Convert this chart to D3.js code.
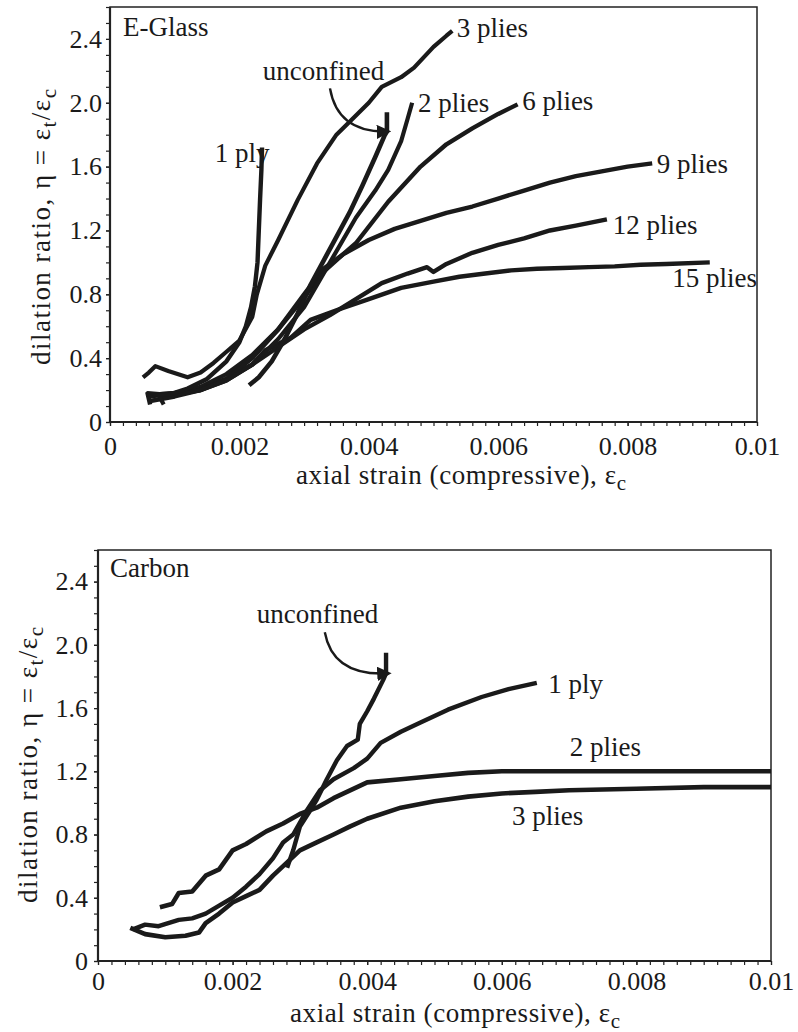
<!DOCTYPE html>
<html>
<head>
<meta charset="utf-8">
<script src="https://cdn.jsdelivr.net/npm/d3@7"></script>
<style>
  body { margin: 0; background: #fff; }
  svg { display: block; }
  text { font-family: "Liberation Serif", "Times New Roman", serif; fill: #1a1a1a; }
</style>
</head>
<body>
<div id="chart"></div>
<script>

var serif = '"Liberation Serif", "Times New Roman", serif';

// axis ticks (shared by both panels)
var xTickValues = [0, 0.002, 0.004, 0.006, 0.008, 0.01];
var xTickLabels = ["0", "0.002", "0.004", "0.006", "0.008", "0.01"];
var yTickValues = [0, 0.4, 0.8, 1.2, 1.6, 2.0, 2.4];
var yTickLabels = ["0", "0.4", "0.8", "1.2", "1.6", "2.0", "2.4"];

// E-Glass curves: [axial strain, dilation ratio]
var glassUnconfined = [[0.00215,0.23],[0.0023,0.28],[0.0025,0.38],[0.0027,0.52],[0.0029,0.68],[0.0031,0.86],
  [0.0033,1.01],[0.0035,1.16],[0.0037,1.31],[0.0039,1.48],[0.0041,1.66],[0.00425,1.80],[0.00428,1.82],[0.00428,1.94]];
var glass1Ply = [[0.00062,0.11],[0.00058,0.18],[0.0009,0.17],[0.0012,0.21],[0.0015,0.27],[0.0018,0.38],[0.0020,0.50],
  [0.0021,0.60],[0.00218,0.72],[0.00224,0.85],[0.00228,1.00],[0.0023,1.20],[0.00232,1.40],[0.00234,1.58],[0.00235,1.72]];
var glass2Plies = [[0.00083,0.11],[0.00075,0.17],[0.0010,0.17],[0.0014,0.20],[0.0018,0.26],[0.0022,0.36],[0.0026,0.52],
  [0.0030,0.72],[0.0034,1.00],[0.0038,1.28],[0.0041,1.45],[0.0043,1.58],[0.0045,1.76],[0.0046,1.90],[0.00467,2.0]];
var glass3Plies = [[0.00051,0.28],[0.0006,0.31],[0.0007,0.35],[0.0009,0.32],[0.0012,0.28],[0.0014,0.31],[0.0016,0.37],
  [0.0018,0.44],[0.0020,0.51],[0.0022,0.66],[0.00227,0.80],[0.0024,0.98],[0.0026,1.14],[0.0029,1.39],[0.0032,1.62],
  [0.0035,1.80],[0.0037,1.88],[0.0040,2.0],[0.0042,2.10],[0.0045,2.16],[0.0047,2.22],[0.0050,2.35],[0.0052,2.42],[0.00529,2.45]];
var glass6Plies = [[0.0006,0.13],[0.0010,0.16],[0.0014,0.20],[0.0018,0.27],[0.0022,0.40],[0.0026,0.58],[0.0030,0.80],
  [0.0033,0.96],[0.0036,1.05],[0.0038,1.12],[0.0043,1.38],[0.0048,1.60],[0.0052,1.74],[0.0056,1.84],[0.0060,1.93],[0.0063,1.99]];
var glass9Plies = [[0.0006,0.16],[0.0010,0.18],[0.0014,0.22],[0.0018,0.30],[0.0022,0.42],[0.0026,0.58],[0.0030,0.78],
  [0.0033,0.94],[0.0036,1.05],[0.0040,1.14],[0.0044,1.21],[0.0048,1.26],[0.0052,1.31],[0.0056,1.35],[0.0060,1.40],
  [0.0064,1.45],[0.0068,1.50],[0.0072,1.54],[0.0076,1.57],[0.0080,1.60],[0.00838,1.62]];
var glass12Plies = [[0.0006,0.17],[0.0010,0.18],[0.0014,0.21],[0.0018,0.27],[0.0022,0.36],[0.0026,0.47],[0.0030,0.58],
  [0.0034,0.67],[0.0038,0.77],[0.0042,0.87],[0.0046,0.93],[0.0049,0.97],[0.0050,0.94],[0.0052,0.99],[0.0056,1.06],
  [0.0060,1.11],[0.0064,1.15],[0.0068,1.20],[0.0072,1.23],[0.00768,1.27]];
var glass15Plies = [[0.0006,0.17],[0.0010,0.18],[0.0014,0.20],[0.0018,0.26],[0.0022,0.36],[0.0024,0.45],[0.0028,0.53],
  [0.0031,0.64],[0.0035,0.70],[0.0040,0.77],[0.0045,0.84],[0.0050,0.88],[0.0054,0.91],[0.0058,0.93],[0.0062,0.95],
  [0.0066,0.96],[0.0070,0.965],[0.0074,0.97],[0.0078,0.975],[0.0082,0.985],[0.0086,0.99],[0.00927,1.00]];

// Carbon curves
var carbonUnconfined = [[0.00281,0.59],[0.0029,0.70],[0.0030,0.85],[0.00315,0.95],[0.00325,1.02],[0.0034,1.15],
  [0.00355,1.27],[0.0037,1.36],[0.00386,1.40],[0.00389,1.50],[0.0040,1.58],[0.0041,1.66],[0.00424,1.78],[0.00428,1.82],[0.00428,1.95]];
var carbon1Ply = [[0.00052,0.20],[0.0007,0.23],[0.0009,0.22],[0.0012,0.26],[0.0014,0.27],[0.0016,0.30],[0.0018,0.35],
  [0.0020,0.40],[0.0022,0.47],[0.0024,0.55],[0.0026,0.65],[0.00275,0.75],[0.0029,0.80],[0.0031,0.95],[0.0033,1.08],
  [0.0035,1.15],[0.0038,1.22],[0.0040,1.28],[0.0042,1.38],[0.0045,1.45],[0.0048,1.51],[0.0052,1.59],[0.0057,1.67],
  [0.0061,1.72],[0.00652,1.76]];
var carbon2Plies = [[0.00092,0.34],[0.0011,0.36],[0.0012,0.43],[0.0014,0.44],[0.0016,0.54],[0.0018,0.58],[0.0020,0.70],
  [0.0022,0.74],[0.0025,0.82],[0.00275,0.87],[0.0030,0.93],[0.00325,0.97],[0.0035,1.03],[0.0040,1.13],[0.0045,1.15],
  [0.0050,1.17],[0.0055,1.19],[0.0060,1.20],[0.0070,1.20],[0.0080,1.20],[0.0090,1.20],[0.0100,1.20]];
var carbon3Plies = [[0.00048,0.21],[0.0007,0.17],[0.0010,0.15],[0.0013,0.16],[0.0015,0.18],[0.0016,0.24],[0.0018,0.30],
  [0.0020,0.37],[0.0022,0.41],[0.0024,0.45],[0.0026,0.54],[0.00285,0.64],[0.0030,0.70],[0.00325,0.75],[0.0035,0.80],
  [0.00374,0.85],[0.0040,0.90],[0.0045,0.97],[0.0050,1.01],[0.0055,1.04],[0.0060,1.06],[0.0065,1.07],[0.0070,1.08],
  [0.0080,1.09],[0.0090,1.10],[0.0100,1.10]];

var svg = d3.select("#chart").append("svg")
  .attr("width", 798)
  .attr("height", 1032);

svg.append("defs").append("marker")
  .attr("id", "arrow")
  .attr("viewBox", "0 0 10 10")
  .attr("refX", 8).attr("refY", 5)
  .attr("markerWidth", 6).attr("markerHeight", 6)
  .attr("markerUnits", "strokeWidth")
  .attr("orient", "auto")
  .append("path")
  .attr("d", "M0,0 L10,5 L0,10 z")
  .attr("fill", "#1a1a1a");

function drawPanel(p) {
  var x = d3.scaleLinear().domain([0, 0.01]).range([p.left, p.right]);
  var y = d3.scaleLinear().domain([0, 2.6]).range([p.bottom, p.top]);
  var g = svg.append("g");

  // frame
  g.append("rect")
    .attr("x", p.left).attr("y", p.top)
    .attr("width", p.right - p.left).attr("height", p.bottom - p.top)
    .attr("fill", "none").attr("stroke", "#222").attr("stroke-width", 1.5);

  // minor ticks
  g.append("g")
    .attr("transform", "translate(0," + p.bottom + ")")
    .call(d3.axisBottom(x).tickValues(d3.range(0, 0.01001, 0.0002)).tickSize(4).tickFormat(""))
    .call(function(a) { a.select(".domain").remove(); });
  g.append("g")
    .attr("transform", "translate(" + p.left + ",0)")
    .call(d3.axisLeft(y).tickValues(d3.range(0, 2.601, 0.1)).tickSize(4).tickFormat(""))
    .call(function(a) { a.select(".domain").remove(); });

  // major ticks + labels
  var xa = g.append("g")
    .attr("transform", "translate(0," + p.bottom + ")")
    .call(d3.axisBottom(x).tickValues(xTickValues).tickSize(4).tickPadding(p.xPad)
      .tickFormat(function(d, i) { return xTickLabels[i]; }));
  xa.select(".domain").remove();
  xa.attr("font-family", serif);
  xa.selectAll("text").style("font-family", serif).style("font-size", "26px").attr("fill", "#1a1a1a");

  var ya = g.append("g")
    .attr("transform", "translate(" + p.left + ",0)")
    .call(d3.axisLeft(y).tickValues(yTickValues).tickSize(4).tickPadding(p.yPad)
      .tickFormat(function(d, i) { return yTickLabels[i]; }));
  ya.select(".domain").remove();
  ya.attr("font-family", serif);
  ya.selectAll("text").style("font-family", serif).style("font-size", "26px").attr("fill", "#1a1a1a");
  g.selectAll(".tick line").attr("stroke", "#222").attr("stroke-width", 1.2);

  // axis lines (heavier than frame)
  g.append("line").attr("x1", p.left).attr("x2", p.right).attr("y1", p.bottom).attr("y2", p.bottom)
    .attr("stroke", "#222").attr("stroke-width", 2.2);
  g.append("line").attr("x1", p.left).attr("x2", p.left).attr("y1", p.top).attr("y2", p.bottom)
    .attr("stroke", "#222").attr("stroke-width", 2.2);

  // curves
  var line = d3.line().x(function(d) { return x(d[0]); }).y(function(d) { return y(d[1]); });
  p.curves.forEach(function(c) {
    g.append("path")
      .datum(c.data)
      .attr("d", line)
      .attr("fill", "none")
      .attr("stroke", "#1a1a1a")
      .attr("stroke-width", c.w)
      .attr("stroke-linejoin", "round");
  });

  // arrow from "unconfined"
  var a = p.arrow;
  g.append("path")
    .attr("d", "M" + x(a[0][0]) + "," + y(a[0][1]) +
      " Q" + x(a[1][0]) + "," + y(a[1][1]) + " " + x(a[2][0]) + "," + y(a[2][1]))
    .attr("fill", "none")
    .attr("stroke", "#1a1a1a")
    .attr("stroke-width", 2.4)
    .attr("marker-end", "url(#arrow)");

  // curve labels
  g.selectAll(".lbl").data(p.labels).enter().append("text")
    .attr("class", "lbl")
    .attr("x", function(d) { return x(d[1]); })
    .attr("y", function(d) { return y(d[2]); })
    .style("font-family", serif)
    .style("font-size", "27px")
    .text(function(d) { return d[0]; });

  // x title
  var xt = g.append("text")
    .attr("x", p.xTitle[0]).attr("y", p.xTitle[1])
    .attr("textLength", 330).attr("lengthAdjust", "spacing")
    .style("font-family", serif)
    .style("font-size", "27px")
    .text("axial strain (compressive), ε");
  xt.append("tspan").attr("dy", 6).style("font-size", "21px").text("c");

  // y title
  var yt = g.append("text")
    .attr("transform", "translate(" + p.yTitle[0] + "," + p.yTitle[1] + ") rotate(-90)")
    .attr("textLength", 276).attr("lengthAdjust", "spacing")
    .style("font-family", serif)
    .style("font-size", "27px")
    .text("dilation ratio, η = ε");
  yt.append("tspan").attr("dy", 6).style("font-size", "21px").text("t");
  yt.append("tspan").attr("dy", -6).text("/ε");
  yt.append("tspan").attr("dy", 6).style("font-size", "21px").text("c");
}

drawPanel({
  left: 110, right: 757, top: 7, bottom: 422, xPad: 11, yPad: 4,
  xTitle: [296, 484], yTitle: [50, 365],
  curves: [
    { data: glass15Plies, w: 4.4 },
    { data: glass12Plies, w: 4.4 },
    { data: glass9Plies, w: 4.4 },
    { data: glass6Plies, w: 4.4 },
    { data: glass3Plies, w: 4.2 },
    { data: glass2Plies, w: 4.2 },
    { data: glass1Ply, w: 4.4 },
    { data: glassUnconfined, w: 4.6 }
  ],
  arrow: [[0.0034, 2.09], [0.00352, 1.81], [0.0043, 1.82]],
  labels: [
    ["E-Glass", 0.0002, 2.42],
    ["3 plies", 0.00536, 2.41],
    ["unconfined", 0.00236, 2.14],
    ["2 plies", 0.00476, 1.94],
    ["6 plies", 0.00637, 1.955],
    ["1 ply", 0.00162, 1.63],
    ["9 plies", 0.00845, 1.56],
    ["12 plies", 0.00777, 1.18],
    ["15 plies", 0.00869, 0.846]
  ]
});

drawPanel({
  left: 98, right: 771, top: 550, bottom: 961, xPad: 7, yPad: 6,
  xTitle: [290, 1022], yTitle: [37, 903],
  curves: [
    { data: carbon3Plies, w: 4.6 },
    { data: carbon2Plies, w: 4.6 },
    { data: carbon1Ply, w: 4.4 },
    { data: carbonUnconfined, w: 4.4 }
  ],
  arrow: [[0.00337, 2.08], [0.00349, 1.80], [0.00432, 1.82]],
  labels: [
    ["Carbon", 0.00018, 2.43],
    ["unconfined", 0.00236, 2.14],
    ["1 ply", 0.00669, 1.695],
    ["2 plies", 0.00701, 1.30],
    ["3 plies", 0.00615, 0.86]
  ]
});

</script>
</body>
</html>
